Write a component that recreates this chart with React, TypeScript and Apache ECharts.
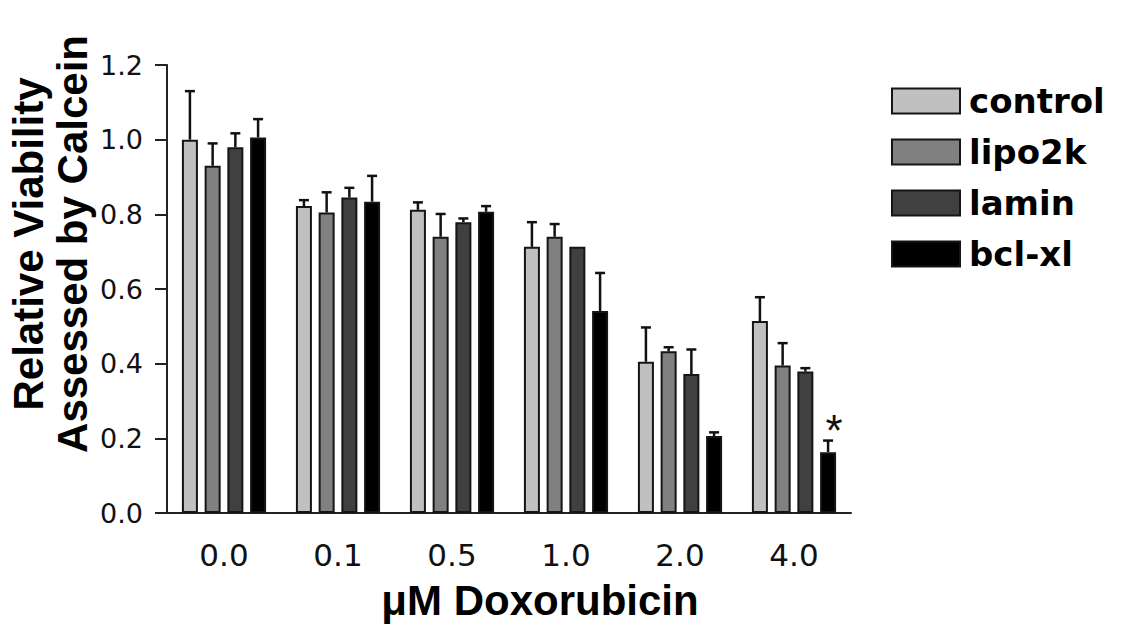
import React, { useEffect, useRef } from 'react';
import * as echarts from 'echarts';

const categories = ['0.0', '0.1', '0.5', '1.0', '2.0', '4.0'];
const seriesNames = ['control', 'lipo2k', 'lamin', 'bcl-xl'];

const controlValues = [1.0, 0.822, 0.812, 0.713, 0.405, 0.514];
const controlErrors = [0.13, 0.016, 0.02, 0.066, 0.092, 0.064];
const lipo2kValues = [0.93, 0.805, 0.74, 0.74, 0.433, 0.395];
const lipo2kErrors = [0.06, 0.054, 0.061, 0.034, 0.011, 0.06];
const laminValues = [0.98, 0.845, 0.779, 0.713, 0.372, 0.379];
const laminErrors = [0.037, 0.026, 0.01, 0, 0.066, 0.009];
const bclxlValues = [1.006, 0.834, 0.807, 0.541, 0.206, 0.163];
const bclxlErrors = [0.049, 0.069, 0.015, 0.102, 0.01, 0.031];
const bclxlSignificant = [false, false, false, false, false, true];

const yTicks = { min: 0, max: 1.2, interval: 0.2 };

const allValues = [controlValues, lipo2kValues, laminValues, bclxlValues];
const allErrors = [controlErrors, lipo2kErrors, laminErrors, bclxlErrors];
const allSignificant = [null, null, null, bclxlSignificant];
const fills = ['#c0c0c0', '#808080', '#404040', '#000000'];

const BAR_W = 16;
const BAR_GAP = '42%';

export default function App() {
  const ref = useRef<HTMLDivElement>(null);
  useEffect(() => {
    if (!ref.current) return;
    const chart = echarts.init(ref.current, null, { renderer: 'svg' });

    const barSeries = seriesNames.map((name, i) => ({
      name,
      type: 'bar',
      barWidth: BAR_W,
      barGap: BAR_GAP,
      itemStyle: { color: fills[i], borderColor: '#151515', borderWidth: 2 },
      data: allValues[i].map((v, j) => {
        const sig = allSignificant[i] && allSignificant[i]![j];
        return sig
          ? {
              value: v,
              label: {
                show: true,
                formatter: '*',
                position: 'top',
                distance: 0,
                offset: [6, 0],
                fontFamily: '"Liberation Sans", Arial, sans-serif',
                fontSize: 44,
                color: '#111',
              },
            }
          : v;
      }),
      z: 2,
    }));

    const errSeries = seriesNames.map((name, i) => ({
      name: name + ' error',
      type: 'custom',
      z: 3,
      encode: { x: 0, y: 1 },
      data: allValues[i].map((v, j) => [j, v, allErrors[i][j]]),
      renderItem: (params: any, api: any) => {
        const x = api.value(0);
        const v = api.value(1);
        const e = api.value(2);
        if (!(e > 0)) return null;
        let off = 0;
        if (api.barLayout) {
          const layout = api.barLayout({ count: 4, barWidth: BAR_W, barGap: BAR_GAP });
          off = layout[i].offsetCenter;
        }
        const base = api.coord([x, v]);
        const top = api.coord([x, v + e]);
        const cx = base[0] + off;
        return {
          type: 'group',
          children: [
            { type: 'line', shape: { x1: cx, y1: base[1], x2: cx, y2: top[1] }, style: { stroke: '#111', lineWidth: 2.5 } },
            { type: 'line', shape: { x1: cx - 5, y1: top[1], x2: cx + 5, y2: top[1] }, style: { stroke: '#111', lineWidth: 2.5 } },
          ],
        };
      },
    }));

    chart.setOption({
      animation: false,
      backgroundColor: '#fff',
      grid: { left: 167, right: 274, top: 65, bottom: 112, containLabel: false },
      legend: {
        data: seriesNames,
        orient: 'vertical',
        left: 891,
        top: 84,
        padding: 0,
        itemWidth: 68,
        itemHeight: 25,
        itemGap: 17,
        icon: 'rect',
        itemStyle: { borderColor: '#151515', borderWidth: 2 },
        textStyle: {
          fontFamily: '"DejaVu Sans", sans-serif',
          fontWeight: 'bold',
          fontSize: 34,
          color: '#000',
          padding: [0, 0, 0, 4],
        },
        selectedMode: false,
      },
      xAxis: {
        type: 'category',
        data: categories,
        axisLine: { lineStyle: { color: '#222', width: 2 } },
        axisTick: { show: false },
        axisLabel: {
          margin: 26,
          fontFamily: '"DejaVu Sans", sans-serif',
          fontSize: 31,
          color: '#111',
        },
      },
      yAxis: {
        type: 'value',
        min: yTicks.min,
        max: yTicks.max,
        interval: yTicks.interval,
        splitLine: { show: false },
        axisLine: { show: true, lineStyle: { color: '#222', width: 2 } },
        axisTick: { show: true, length: 12, lineStyle: { color: '#222', width: 2 } },
        axisLabel: {
          margin: 24,
          formatter: (v: number) => v.toFixed(1),
          fontFamily: '"DejaVu Sans", sans-serif',
          fontSize: 27,
          color: '#111',
        },
      },
      graphic: [
        {
          type: 'text',
          x: 50,
          y: 244,
          rotation: Math.PI / 2,
          style: {
            text: 'Relative Viability\nAssessed by Calcein',
            font: 'bold 42px "Liberation Sans", Arial, sans-serif',
            fill: '#000',
            align: 'center',
            verticalAlign: 'middle',
            lineHeight: 44,
          },
        },
        {
          type: 'text',
          x: 540,
          y: 600,
          style: {
            text: 'μM Doxorubicin',
            font: 'bold 42px "Liberation Sans", Arial, sans-serif',
            fill: '#000',
            align: 'center',
            verticalAlign: 'middle',
          },
        },
      ],
      series: [...barSeries, ...errSeries],
    });
    return () => chart.dispose();
  }, []);
  return <div ref={ref} style={{ position: 'fixed', left: 0, top: 0, width: 1125, height: 625 }} />;
}
